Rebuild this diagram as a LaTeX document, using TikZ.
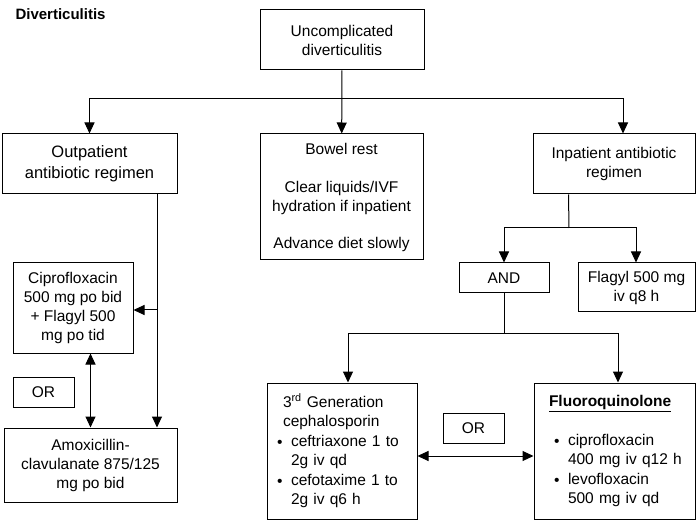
\documentclass[tikz,border=0pt]{standalone}
\usepackage{fontspec}
\setmainfont{Liberation Sans}
\usepackage{tikz}
\usetikzlibrary{arrows.meta,positioning,calc}
\tikzset{
  flowbox/.style={draw=black,line width=1pt,align=center,inner sep=0pt,
              font=\fontsize{15.5}{19}\selectfont},
  listbox/.style={draw=black,line width=1pt,align=left,inner ysep=0pt,
              font=\fontsize{15.5}{19.5}\selectfont},
  orbox/.style={draw=black,line width=1pt,align=center,inner sep=0pt,
              minimum width=61pt,minimum height=30pt,font=\fontsize{15.5}{19}\selectfont},
  flow/.style={-{Triangle[length=11pt,width=10pt]},line width=1pt},
  bothflow/.style={{Triangle[length=11pt,width=10pt]}-{Triangle[length=11pt,width=10pt]},line width=1pt},
  link/.style={line width=1pt},
  title/.style={font=\fontsize{15}{18}\selectfont\bfseries,anchor=west}
}
\newcommand{\blt}{\makebox[14pt][l]{\raisebox{-1.5pt}{\textbullet}}}

\begin{document}
\begin{tikzpicture}[x=1pt,y=-1pt]
  \useasboundingbox (0,0) rectangle (696,521);
  \node[title] (head) at (12,14) {Diverticulitis};
  % first level
  \node[flowbox,minimum width=164pt,minimum height=60pt] (uncomp) at (342,40) {Uncomplicated\\diverticulitis};
  \node[flowbox,minimum width=175pt,minimum height=60pt,font=\fontsize{16.5}{21}\selectfont] (outp) at (89.5,164) {Outpatient\\antibiotic regimen};
  \node[flowbox,minimum width=163pt,minimum height=126pt] (bowel) at (341.5,197) {Bowel rest\\[19pt]Clear liquids/IVF\\hydration if inpatient\\[18pt]Advance diet slowly};
  \node[flowbox,minimum width=162pt,minimum height=60pt] (inp) at (614,164) {Inpatient antibiotic\\regimen};
  % outpatient side
  \node[flowbox,minimum width=120pt,minimum height=90pt] (cipro) at (73,308) {Ciprofloxacin\\500 mg po bid\\+ Flagyl 500\\mg po tid};
  \node[orbox] (orleft) at (43.5,392.5) {OR};
  \node[flowbox,minimum width=173pt,minimum height=74pt] (amox) at (90.5,465) {Amoxicillin-\\clavulanate 875/125\\mg po bid};
  % inpatient side
  \node[orbox,minimum width=90pt] (and) at (504,278) {AND};
  \node[flowbox,minimum width=117pt,minimum height=49pt] (flag) at (636.5,287.5) {Flagyl 500 mg\\iv q8 h};
  \node[listbox,text width=130pt,inner xsep=10pt,minimum height=136pt] (ceph) at (342,451)
    {\hspace*{6pt}3\textsuperscript{rd} Generation\\\hspace*{6pt}cephalosporin\\
     \blt ceftriaxone 1 to\\\hspace*{14pt}2g iv qd\\
     \blt cefotaxime 1 to\\\hspace*{14pt}2g iv q6 h};
  \node[listbox,text width=141pt,inner xsep=10pt,minimum height=136pt] (fluoro) at (614.5,451)
    {\hspace*{5pt}\underline{\textbf{Fluoroquinolone}}\\[19pt]
     \hspace*{10pt}\blt ciprofloxacin\\\hspace*{24pt}400 mg iv q12 h\\
     \hspace*{10pt}\blt levofloxacin\\\hspace*{24pt}500 mg iv qd};
  \node[orbox] (ormid) at (473.5,428) {OR};
  % connectors
  \coordinate (split) at (342,99);
  \coordinate (outsplit) at (157,310);
  \coordinate (inpsplit) at (569,228);
  \coordinate (andsplit) at (504,333);
  \draw[flow] (uncomp) -- (bowel);
  \draw[flow] (split) -| (outp.north);
  \draw[flow] (split) -| ([xshift=9pt]inp.north);
  \draw[flow] ([xshift=67.5pt]outp.south) -- ([xshift=66.5pt]amox.north);
  \draw[flow] (outsplit) -- (cipro.east |- outsplit);
  \draw[bothflow] (cipro.south -| amox.north) -- (amox.north);
  \draw[link] ([xshift=-45.5pt]inp.south) -- (inpsplit);
  \draw[flow] (inpsplit) -| (and.north);
  \draw[flow] (inpsplit) -| ([xshift=-0.5pt]flag.north);
  \draw[link] (and) -- (andsplit);
  \draw[flow] (andsplit) -| ([xshift=6pt]ceph.north);
  \draw[flow] (andsplit) -| ([xshift=3.5pt]fluoro.north);
  \draw[bothflow] ([yshift=-5pt]ceph.east) -- ([yshift=-5pt]fluoro.west);
\end{tikzpicture}
\end{document}
